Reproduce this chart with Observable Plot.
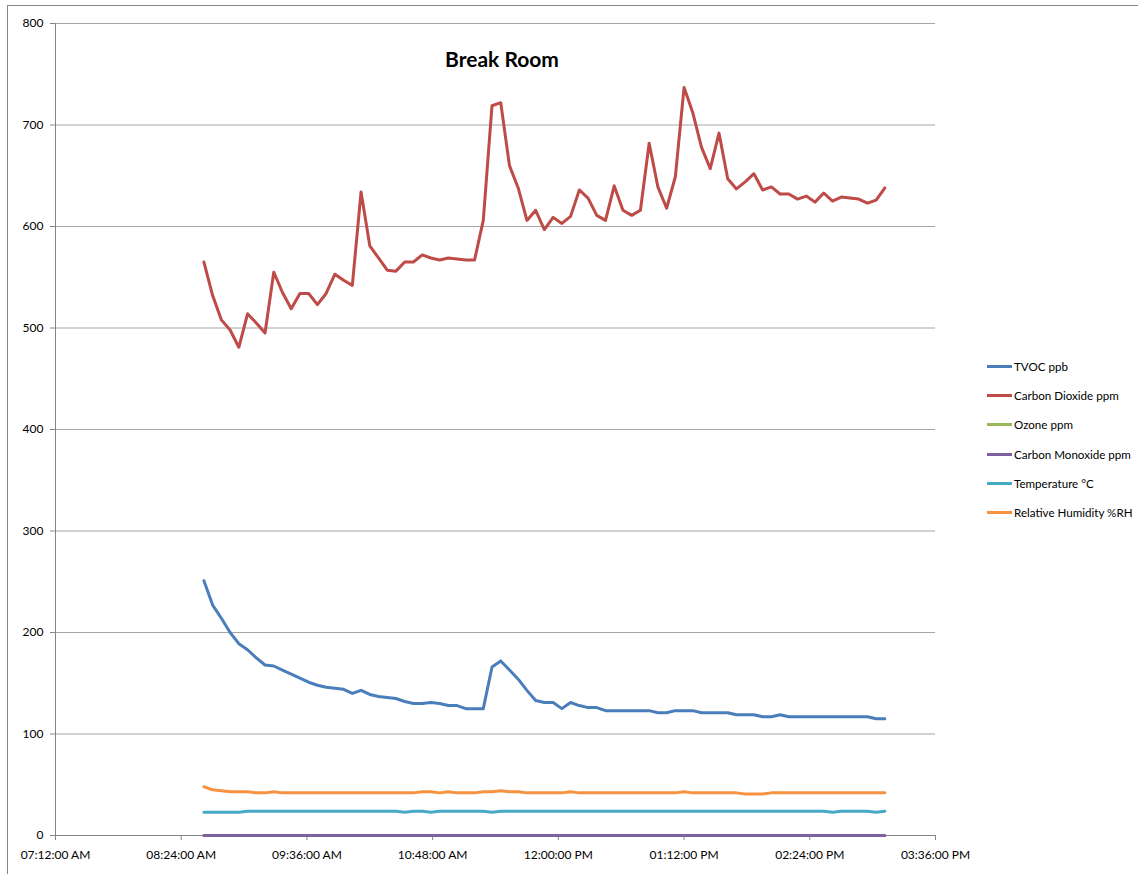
<!DOCTYPE html>
<html>
<head>
<meta charset="utf-8">
<script src="https://cdn.jsdelivr.net/npm/d3@7"></script>
<script src="https://cdn.jsdelivr.net/npm/@observablehq/plot@0.6"></script>
<style>
  html, body { margin: 0; padding: 0; background: #fff; }
  #chart { position: relative; width: 1138px; height: 874px; font-family: Lato, "Open Sans", sans-serif; }
  #frame { position: absolute; left: 7px; top: 5px; width: 1140px; height: 880px; border: 1px solid #868686; box-sizing: border-box; pointer-events: none; }
  #title { position: absolute; left: 0; width: 1004px; top: 46px; text-align: center; font-size: 21px; font-weight: bold; color: #000; }
  #legend { position: absolute; left: 987px; top: 352px; font-size: 11.6px; color: #000; }
  .item { display: flex; align-items: center; height: 29.2px; }
  .swatch { width: 25px; height: 3px; margin-right: 2px; }
  svg { position: absolute; left: 0; top: 0; }
</style>
</head>
<body>
<div id="chart">
  <div id="frame"></div>
  <div id="title">Break Room</div>
  <div id="legend"></div>
</div>
<script>
// Sampling times (every reading of the monitor)
const times = [
  "08:37","08:42","08:47","08:52","08:57",
  "09:02","09:07","09:12","09:17","09:22","09:27","09:32","09:37","09:42","09:47","09:52","09:57",
  "10:02","10:07","10:12","10:17","10:22","10:27","10:32","10:37","10:42","10:47","10:52","10:57",
  "11:02","11:07","11:12","11:17","11:22","11:27","11:32","11:37","11:42","11:47","11:52","11:57",
  "12:02","12:07","12:12","12:17","12:22","12:27","12:32","12:37","12:42","12:47","12:52","12:57",
  "13:02","13:07","13:12","13:17","13:22","13:27","13:32","13:37","13:42","13:47","13:52","13:57",
  "14:02","14:07","14:12","14:17","14:22","14:27","14:32","14:37","14:42","14:47","14:52","14:57",
  "15:02","15:07"
];

const tvoc = [
  251,227,214,200,189,183,175,168,167,163,159,155,151,148,146,145,144,140,143,139,
  137,136,135,132,130,130,131,130,128,128,125,125,125,166,172,163,154,143,133,131,
  131,125,131,128,126,126,123,123,123,123,123,123,121,121,123,123,123,121,121,121,
  121,119,119,119,117,117,119,117,117,117,117,117,117,117,117,117,117,115,115
];

const co2 = [
  565,532,508,498,481,514,505,495,555,535,519,534,534,523,534,553,547,542,634,581,
  569,557,556,565,565,572,569,567,569,568,567,567,606,719,722,660,638,606,616,597,
  609,603,610,636,628,611,606,640,616,611,616,682,639,618,649,737,712,678,657,692,
  647,637,644,652,636,639,632,632,627,630,624,633,625,629,628,627,623,626,638
];

const ozone = times.map(() => 0);
const carbonMonoxide = times.map(() => 0);

const temperature = [
  23,23,23,23,23,24,24,24,24,24,24,24,24,24,24,24,24,24,24,24,
  24,24,24,23,24,24,23,24,24,24,24,24,24,23,24,24,24,24,24,24,
  24,24,24,24,24,24,24,24,24,24,24,24,24,24,24,24,24,24,24,24,
  24,24,24,24,24,24,24,24,24,24,24,24,23,24,24,24,24,23,24
];

const humidity = [
  48,45,44,43,43,43,42,42,43,42,42,42,42,42,42,42,42,42,42,42,
  42,42,42,42,42,43,43,42,43,42,42,42,43,43,44,43,43,42,42,42,
  42,42,43,42,42,42,42,42,42,42,42,42,42,42,42,43,42,42,42,42,
  42,42,41,41,41,42,42,42,42,42,42,42,42,42,42,42,42,42,42
];

const seriesNames = ["TVOC ppb","Carbon Dioxide ppm","Ozone ppm","Carbon Monoxide ppm","Temperature °C","Relative Humidity %RH"];
const seriesColors = ["#4A7EBB","#BE4B48","#98B954","#7D60A0","#46AAC5","#F69240"];
const seriesValues = [tvoc, co2, ozone, carbonMonoxide, temperature, humidity];

const xTickLabels = ["07:12","08:24","09:36","10:48","12:00","13:12","14:24","15:36"];
const yTicks = [0,100,200,300,400,500,600,700,800];

const parseTime = d3.timeParse("%H:%M");
const xTicks = xTickLabels.map(parseTime);

const rows = [];
seriesNames.forEach((name, s) => {
  seriesValues[s].forEach((v, i) => rows.push({series: name, time: parseTime(times[i]), value: v}));
});

const axisGray = "#868686";

const chart = Plot.plot({
  width: 1138,
  height: 874,
  marginLeft: 55,
  marginRight: 203,
  marginTop: 23,
  marginBottom: 39,
  style: {fontFamily: "Lato, 'Open Sans', sans-serif", fontSize: "12px", color: "#000", background: "transparent"},
  x: {type: "time", domain: [xTicks[0], xTicks[xTicks.length - 1]]},
  y: {domain: [0, 800]},
  color: {domain: seriesNames, range: seriesColors},
  marks: [
    Plot.ruleY(yTicks.filter(d => d > 0), {stroke: "#a6a6a6", strokeWidth: 1}),
    Plot.axisY({ticks: yTicks, tickSize: 5, tickPadding: 7, stroke: axisGray, label: null, fill: "#000", fontSize: 12}),
    Plot.axisX({ticks: xTicks, tickSize: 5, tickPadding: 10, stroke: axisGray, label: null, fill: "#000", fontSize: 12,
      tickFormat: d3.timeFormat("%I:%M:%S %p")}),
    Plot.ruleX([xTicks[0]], {stroke: axisGray}),
    Plot.ruleY([0], {stroke: axisGray}),
    Plot.line(rows, {x: "time", y: "value", z: "series", stroke: "series", strokeWidth: 3, strokeLinejoin: "round", strokeLinecap: "round"})
  ]
});

document.getElementById("chart").appendChild(chart);

const legend = document.getElementById("legend");
seriesNames.forEach((name, i) => {
  const item = document.createElement("div");
  item.className = "item";
  const sw = document.createElement("div");
  sw.className = "swatch";
  sw.style.background = seriesColors[i];
  const label = document.createElement("span");
  label.textContent = name;
  item.appendChild(sw);
  item.appendChild(label);
  legend.appendChild(item);
});
</script>
</body>
</html>
